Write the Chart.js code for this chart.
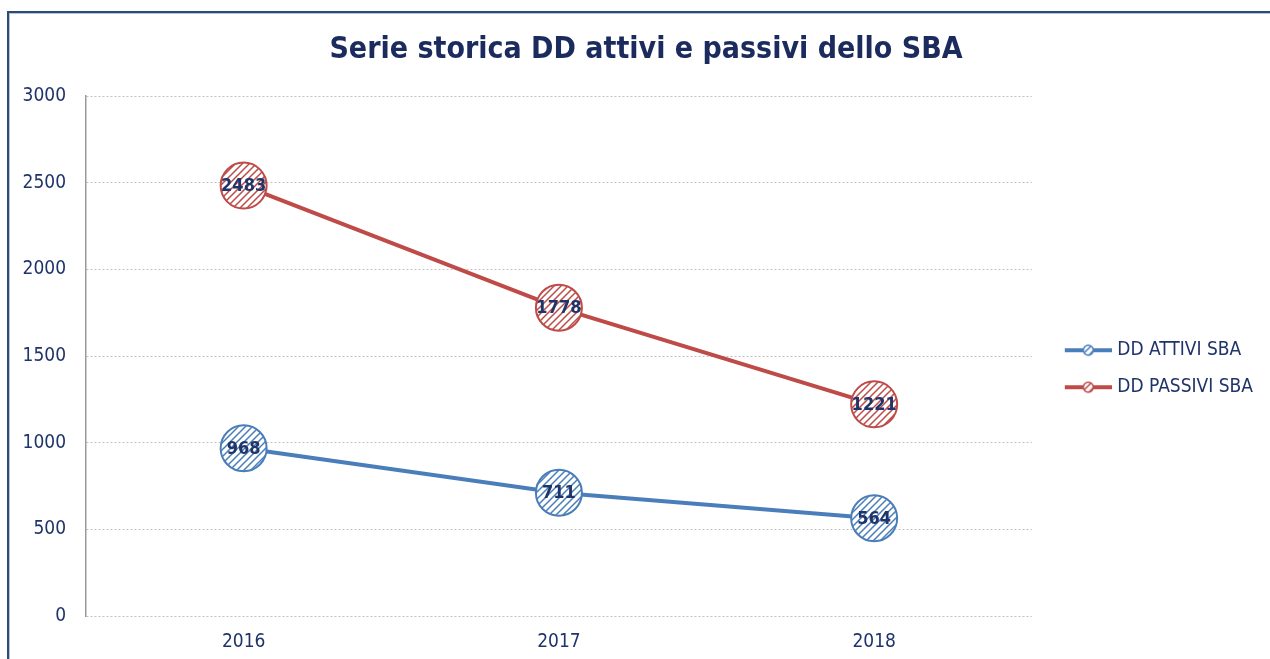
<!DOCTYPE html>
<html>
<head>
<meta charset="utf-8">
<script src="https://cdn.jsdelivr.net/npm/chart.js@4.4.1/dist/chart.umd.min.js"></script>
<style>
  html, body { margin: 0; padding: 0; background: #ffffff; }
  #wrap { position: relative; width: 1270px; height: 659px; }
</style>
</head>
<body>
<div id="wrap"><canvas id="c" width="1270" height="659"></canvas></div>
<script>
const titleText = 'Serie storica DD attivi e passivi dello SBA';
const categories = ['2016', '2017', '2018'];
const attiviLabel = 'DD ATTIVI SBA';
const passiviLabel = 'DD PASSIVI SBA';
const attiviValues = [968, 711, 564];
const passiviValues = [2483, 1778, 1221];
const yMin = 0, yMax = 3000, yStep = 500;

const BLUE = '#4a7ebb';
const RED = '#be4b48';
const NAVY = '#1f3469';
const FONT = '"DejaVu Sans Condensed", "DejaVu Sans", sans-serif';

function makeHatch(color) {
  const c = document.createElement('canvas');
  c.width = 7; c.height = 7;
  const x = c.getContext('2d');
  x.fillStyle = '#ffffff';
  x.fillRect(0, 0, 7, 7);
  x.strokeStyle = color;
  x.lineWidth = 1.5;
  x.beginPath();
  x.moveTo(-1, 8); x.lineTo(8, -1);
  x.moveTo(-4.5, 4.5); x.lineTo(4.5, -4.5);
  x.moveTo(2.5, 11.5); x.lineTo(11.5, 2.5);
  x.stroke();
  return x.createPattern(c, 'repeat');
}

function makeLegendIcon(color, pattern) {
  const W = 66, H = 16;
  const c = document.createElement('canvas');
  c.width = W; c.height = H;
  const x = c.getContext('2d');
  x.strokeStyle = color;
  x.lineWidth = 4;
  x.beginPath();
  x.moveTo(19, H / 2); x.lineTo(W, H / 2);
  x.stroke();
  const cx = 19 + (W - 19) / 2;
  x.beginPath();
  x.arc(cx, H / 2, 5, 0, Math.PI * 2);
  x.fillStyle = pattern;
  x.fill();
  x.lineWidth = 1.5;
  x.stroke();
  return c;
}

const blueHatch = makeHatch(BLUE);
const redHatch = makeHatch(RED);
const blueIcon = makeLegendIcon(BLUE, blueHatch);
const redIcon = makeLegendIcon(RED, redHatch);

const framePlugin = {
  id: 'frame',
  beforeDraw(chart) {
    const ctx = chart.ctx;
    ctx.save();
    ctx.fillStyle = '#ffffff';
    ctx.fillRect(0, 0, chart.width, chart.height);
    ctx.strokeStyle = '#b8c4d6';
    ctx.lineWidth = 1;
    ctx.strokeRect(9.5, 13.5, 1400, 800);
    ctx.strokeStyle = '#2d4a78';
    ctx.lineWidth = 2;
    ctx.strokeRect(8, 12, 1400, 800);
    ctx.restore();
  }
};

// widen the legend box a little so the plot area ends where the reference's does
const legendWidthPlugin = {
  id: 'legendWidth',
  beforeLayout(chart) {
    const lg = chart.legend;
    if (lg && !lg._patched) {
      const orig = lg.fit;
      lg.fit = function () { orig.call(this); this.width += 7; };
      lg._patched = true;
    }
  }
};

const valueLabelPlugin = {
  id: 'valueLabels',
  afterDatasetsDraw(chart) {
    const ctx = chart.ctx;
    ctx.save();
    ctx.font = 'bold 18px ' + FONT;
    ctx.fillStyle = NAVY;
    ctx.textAlign = 'center';
    ctx.textBaseline = 'middle';
    chart.data.datasets.forEach((ds, i) => {
      const meta = chart.getDatasetMeta(i);
      meta.data.forEach((pt, j) => {
        ctx.fillText(String(ds.data[j]), pt.x, pt.y + 1);
      });
    });
    ctx.restore();
  }
};

new Chart(document.getElementById('c'), {
  type: 'line',
  data: {
    labels: categories,
    datasets: [
      {
        label: attiviLabel,
        data: attiviValues,
        borderColor: BLUE,
        backgroundColor: blueHatch,
        borderWidth: 4,
        tension: 0,
        pointRadius: 23,
        pointHoverRadius: 23,
        pointBorderWidth: 2,
        pointBorderColor: BLUE,
        pointBackgroundColor: blueHatch,
        pointStyle: 'circle'
      },
      {
        label: passiviLabel,
        data: passiviValues,
        borderColor: RED,
        backgroundColor: redHatch,
        borderWidth: 4,
        tension: 0,
        pointRadius: 23,
        pointHoverRadius: 23,
        pointBorderWidth: 2,
        pointBorderColor: RED,
        pointBackgroundColor: redHatch,
        pointStyle: 'circle'
      }
    ]
  },
  options: {
    responsive: false,
    animation: false,
    events: [],
    layout: { padding: { left: 22, right: 0, top: 0, bottom: 0 } },
    plugins: {
      title: {
        display: true,
        text: titleText,
        color: '#1b2b5e',
        font: { family: FONT, size: 30, weight: 'bold' },
        padding: { top: 32, bottom: 28 }
      },
      legend: {
        display: true,
        position: 'right',
        align: 'center',
        title: { display: true, text: '', font: { size: 12 }, padding: 32 },
        labels: {
          usePointStyle: true,
          pointStyleWidth: 58,
          padding: 18,
          color: NAVY,
          font: { family: FONT, size: 19 },
          generateLabels(chart) {
            return chart.data.datasets.map((ds, i) => ({
              text: ds.label,
              pointStyle: i === 0 ? blueIcon : redIcon,
              fillStyle: 'transparent',
              strokeStyle: 'transparent',
              lineWidth: 0,
              fontColor: NAVY,
              hidden: false,
              datasetIndex: i
            }));
          }
        }
      },
      tooltip: { enabled: false }
    },
    scales: {
      x: {
        offset: true,
        grid: { display: false },
        border: { display: false },
        ticks: { color: NAVY, font: { family: FONT, size: 19 }, padding: 7 },
        afterFit(scale) { scale.height = 43; }
      },
      y: {
        min: yMin,
        max: yMax,
        ticks: {
          stepSize: yStep,
          color: NAVY,
          font: { family: FONT, size: 19 },
          padding: 20,
          callback: (v) => String(v)
        },
        grid: { color: '#c0c0c0', lineWidth: 1, drawTicks: false },
        border: { display: true, color: '#9a9a9a', width: 1.5, dash: [2, 2] },
        afterFit(scale) { scale.width = 64; }
      }
    }
  },
  plugins: [framePlugin, legendWidthPlugin, valueLabelPlugin]
});
</script>
</body>
</html>
